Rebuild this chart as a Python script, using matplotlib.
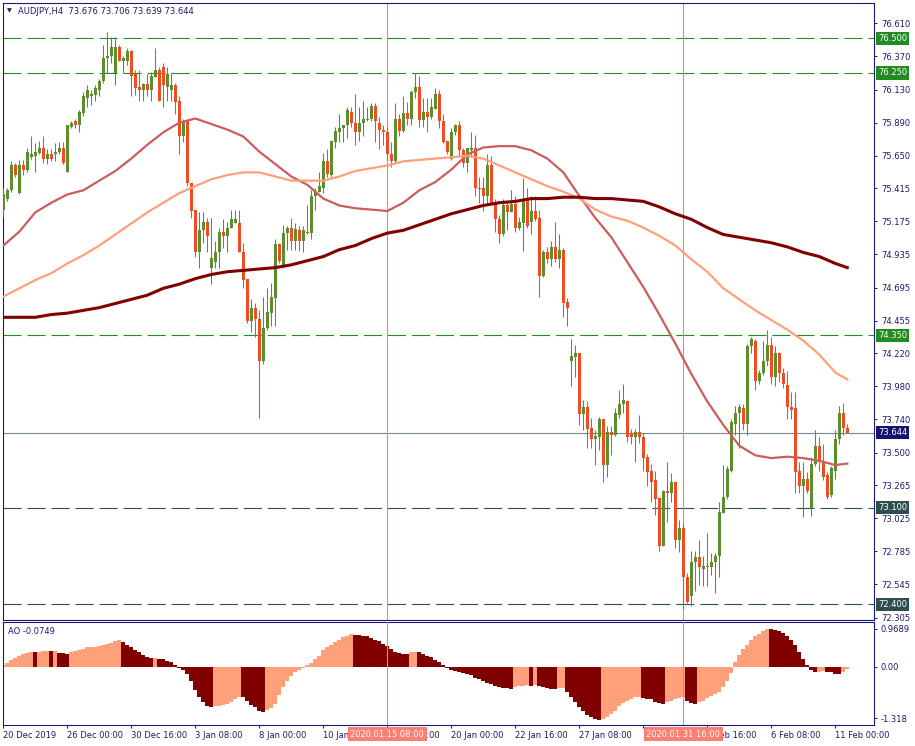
import numpy as np
import matplotlib
matplotlib.use("Agg")
import matplotlib.pyplot as plt
from matplotlib.transforms import blended_transform_factory

plt.rcParams['font.family'] = ['DejaVu Sans']
plt.rcParams['lines.scale_dashes'] = False

W, H = 915, 746

# AUDJPY H4 candles (bar 0 = left edge)
opens = [75.26, 75.34, 75.40, 75.58, 75.38, 75.58, 75.55, 75.64, 75.65, 75.67,
         75.71, 75.63, 75.66, 75.66, 75.68, 75.71, 75.53, 75.86, 75.90, 75.87,
         75.96, 76.07, 76.08, 76.09, 76.13, 76.19, 76.36, 76.37, 76.25, 76.44,
         76.34, 76.34, 76.41, 76.24, 76.15, 76.13, 76.17, 76.13, 76.22, 76.27,
         76.29, 76.15, 76.13, 76.16, 76.05, 75.79, 75.90, 75.45, 75.26, 74.95,
         75.11, 75.17, 74.84, 74.88, 74.95, 75.10, 75.07, 75.13, 75.16, 75.16,
         74.95, 74.76, 74.45, 74.55, 74.47, 74.16, 74.40, 74.51, 74.62, 75.01,
         74.86, 75.09, 75.13, 75.03, 75.11, 75.03, 75.10, 75.09, 75.36, 75.39,
         75.42, 75.61, 75.51, 75.75, 75.82, 75.85, 75.87, 75.97, 75.89, 75.82,
         75.89, 75.91, 75.92, 76.01, 75.89, 75.84, 75.82, 75.66, 75.61, 75.92,
         75.83, 75.96, 75.92, 76.11, 76.15, 75.91, 75.97, 75.93, 75.99, 76.10,
         75.90, 75.76, 75.63, 75.82, 75.87, 75.69, 75.60, 75.69, 75.71, 75.42,
         75.42, 75.36, 75.58, 75.31, 75.19, 75.08, 75.29, 75.24, 75.30, 75.13,
         75.16, 75.34, 75.17, 75.25, 75.20, 74.78, 74.95, 74.90, 74.99, 74.90,
         74.97, 74.59, 74.16, 74.19, 74.22, 73.78, 73.83, 73.68, 73.60, 73.61,
         73.74, 73.41, 73.65, 73.63, 73.77, 73.85, 73.87, 73.64, 73.61, 73.65,
         73.61, 73.47, 73.37, 73.30, 73.17, 72.82, 73.22, 73.21, 73.29, 72.87,
         72.95, 72.60, 72.46, 72.71, 72.74, 72.66, 72.68, 72.67, 72.71, 72.75,
         73.06, 73.18, 73.37, 73.71, 73.79, 73.82, 73.71, 74.27, 74.31, 74.02,
         74.08, 74.16, 74.28, 74.05, 74.22, 74.08, 73.99, 73.83, 73.82, 73.37,
         73.26, 73.31, 73.10, 73.42, 73.55, 73.44, 73.34, 73.19, 73.37, 73.60,
         73.79, 73.676]
highs = [75.42, 75.42, 75.61, 75.60, 75.62, 75.62, 75.71, 75.79, 75.74, 75.76,
         75.79, 75.70, 75.70, 75.74, 75.75, 75.75, 75.87, 75.90, 75.92, 75.98,
         76.11, 76.16, 76.13, 76.16, 76.21, 76.45, 76.55, 76.51, 76.51, 76.45,
         76.37, 76.43, 76.42, 76.27, 76.27, 76.18, 76.24, 76.26, 76.43, 76.29,
         76.32, 76.29, 76.25, 76.18, 76.08, 75.92, 75.91, 75.45, 75.26, 75.24,
         75.24, 75.20, 75.20, 75.03, 75.13, 75.19, 75.17, 75.26, 75.26, 75.26,
         75.02, 74.76, 74.61, 74.58, 74.53, 74.63, 74.69, 74.73, 75.05, 75.02,
         75.15, 75.14, 75.20, 75.16, 75.14, 75.14, 75.29, 75.40, 75.42, 75.53,
         75.67, 75.70, 75.76, 75.86, 75.95, 75.87, 76.00, 76.00, 76.10, 76.00,
         76.05, 76.00, 76.03, 76.03, 75.93, 75.87, 75.86, 75.75, 76.03, 75.95,
         76.08, 76.04, 76.13, 76.25, 76.23, 76.07, 76.07, 76.07, 76.14, 76.13,
         75.95, 75.76, 75.85, 75.88, 75.90, 75.71, 75.71, 75.82, 75.80, 75.50,
         75.50, 75.66, 75.65, 75.34, 75.22, 75.34, 75.32, 75.40, 75.36, 75.21,
         75.49, 75.42, 75.36, 75.36, 75.26, 74.97, 74.99, 75.03, 75.17, 75.08,
         74.98, 74.62, 74.32, 74.28, 74.22, 73.88, 73.87, 73.75, 73.66, 73.76,
         73.74, 73.69, 73.69, 73.82, 73.95, 74.00, 73.88, 73.67, 73.67, 73.77,
         73.64, 73.49, 73.42, 73.37, 73.17, 73.23, 73.43, 73.35, 73.29, 73.01,
         72.99, 72.63, 72.79, 72.79, 72.87, 72.75, 72.92, 72.77, 72.77, 73.14,
         73.41, 73.40, 73.74, 73.84, 73.85, 73.85, 74.29, 74.34, 74.32, 74.10,
         74.31, 74.39, 74.34, 74.27, 74.23, 74.11, 74.09, 73.94, 73.94, 73.43,
         73.43, 73.36, 73.47, 73.66, 73.61, 73.56, 73.36, 73.40, 73.66, 73.84,
         73.86, 73.706]
lows = [75.21, 75.32, 75.39, 75.50, 75.37, 75.51, 75.53, 75.63, 75.53, 75.66,
        75.60, 75.59, 75.61, 75.61, 75.66, 75.59, 75.53, 75.85, 75.85, 75.82,
        75.94, 76.00, 76.02, 76.05, 76.08, 76.18, 76.25, 76.32, 76.16, 76.34,
        76.25, 76.31, 76.08, 76.09, 76.05, 76.05, 76.08, 76.05, 76.22, 76.05,
        76.00, 76.05, 76.05, 75.95, 75.66, 75.75, 75.43, 75.20, 74.92, 74.84,
        75.02, 74.95, 74.72, 74.84, 74.84, 74.98, 74.95, 75.13, 75.16, 74.95,
        74.69, 74.44, 74.37, 74.34, 73.75, 74.14, 74.39, 74.42, 74.42, 74.87,
        74.84, 74.97, 74.97, 74.97, 74.96, 74.95, 75.08, 75.05, 75.26, 75.39,
        75.38, 75.50, 75.50, 75.71, 75.75, 75.75, 75.78, 75.86, 75.73, 75.76,
        75.79, 75.90, 75.90, 75.75, 75.70, 75.73, 75.62, 75.57, 75.60, 75.79,
        75.82, 75.87, 75.87, 76.07, 75.86, 75.86, 75.82, 75.92, 75.99, 75.85,
        75.74, 75.66, 75.62, 75.80, 75.64, 75.57, 75.53, 75.64, 75.36, 75.31,
        75.25, 75.29, 75.29, 75.10, 75.02, 75.07, 75.11, 75.24, 75.10, 75.11,
        74.96, 75.13, 75.08, 75.18, 74.63, 74.77, 74.87, 74.85, 74.88, 74.84,
        74.48, 74.42, 73.98, 74.05, 73.70, 73.66, 73.53, 73.53, 73.41, 73.52,
        73.29, 73.32, 73.48, 73.62, 73.75, 73.79, 73.58, 73.56, 73.43, 73.57,
        73.37, 73.26, 73.14, 73.05, 72.79, 72.82, 73.00, 73.14, 72.81, 72.78,
        72.37, 72.41, 72.39, 72.50, 72.54, 72.53, 72.53, 72.61, 72.48, 72.60,
        73.06, 73.16, 73.36, 73.63, 73.53, 73.66, 73.63, 74.22, 73.95, 74.00,
        74.06, 74.13, 74.00, 73.98, 74.01, 73.97, 73.74, 73.74, 73.21, 73.21,
        73.03, 73.21, 73.04, 73.40, 73.37, 73.30, 73.16, 73.18, 73.31, 73.56,
        73.63, 73.639]
closes = [75.37, 75.40, 75.58, 75.51, 75.58, 75.55, 75.68, 75.66, 75.68, 75.71,
          75.63, 75.66, 75.63, 75.68, 75.71, 75.60, 75.87, 75.89, 75.87, 75.97,
          76.08, 76.13, 76.10, 76.14, 76.19, 76.36, 76.37, 76.44, 76.44, 76.34,
          76.36, 76.41, 76.23, 76.14, 76.13, 76.17, 76.13, 76.23, 76.27, 76.05,
          76.16, 76.24, 76.16, 76.04, 75.79, 75.90, 75.45, 75.25, 74.95, 75.11,
          75.17, 75.07, 74.91, 74.95, 75.10, 75.07, 75.13, 75.19, 75.19, 74.95,
          74.75, 74.45, 74.55, 74.47, 74.16, 74.40, 74.52, 74.63, 75.01, 74.89,
          75.09, 75.13, 75.03, 75.12, 75.03, 75.11, 75.09, 75.36, 75.39, 75.43,
          75.61, 75.52, 75.76, 75.83, 75.85, 75.87, 75.98, 75.89, 75.82, 75.89,
          75.92, 75.92, 76.01, 75.90, 75.84, 75.82, 75.66, 75.61, 75.92, 75.83,
          75.96, 75.92, 76.11, 76.15, 75.91, 75.97, 75.93, 76.00, 76.10, 75.90,
          75.75, 75.68, 75.82, 75.87, 75.69, 75.60, 75.71, 75.71, 75.42, 75.41,
          75.36, 75.58, 75.31, 75.19, 75.08, 75.29, 75.24, 75.30, 75.13, 75.17,
          75.34, 75.14, 75.25, 75.19, 74.78, 74.95, 74.90, 74.99, 74.90, 74.97,
          74.58, 74.55, 74.20, 74.22, 73.78, 73.83, 73.67, 73.60, 73.62, 73.74,
          73.41, 73.65, 73.63, 73.79, 73.85, 73.88, 73.61, 73.61, 73.65, 73.61,
          73.46, 73.36, 73.29, 73.16, 72.82, 73.22, 73.21, 73.29, 72.87, 72.95,
          72.60, 72.42, 72.71, 72.74, 72.67, 72.68, 72.67, 72.71, 72.75, 73.07,
          73.18, 73.38, 73.72, 73.79, 73.83, 73.71, 74.27, 74.32, 74.02, 74.08,
          74.16, 74.28, 74.05, 74.22, 74.08, 74.00, 73.83, 73.81, 73.36, 73.26,
          73.31, 73.22, 73.42, 73.55, 73.43, 73.32, 73.18, 73.39, 73.60, 73.79,
          73.676, 73.644]

# Awesome Oscillator per bar
ao = [0.03, 0.09, 0.17, 0.22, 0.27, 0.31, 0.34, 0.37, 0.36, 0.38,
      0.39, 0.40, 0.39, 0.40, 0.35, 0.34, 0.33, 0.37, 0.39, 0.43,
      0.45, 0.49, 0.50, 0.51, 0.52, 0.55, 0.57, 0.61, 0.65, 0.67,
      0.62, 0.56, 0.49, 0.43, 0.37, 0.30, 0.24, 0.21, 0.22, 0.19,
      0.18, 0.15, 0.11, 0.05, -0.03, -0.09, -0.19, -0.38, -0.59, -0.77,
      -0.90, -1.00, -1.04, -1.02, -1.01, -0.98, -0.95, -0.91, -0.84, -0.77,
      -0.78, -0.87, -0.98, -1.04, -1.15, -1.17, -1.11, -1.05, -0.95, -0.74,
      -0.53, -0.36, -0.25, -0.14, -0.08, -0.03, 0.03, 0.09, 0.18, 0.28,
      0.41, 0.49, 0.55, 0.62, 0.69, 0.75, 0.79, 0.82, 0.81, 0.80,
      0.79, 0.77, 0.73, 0.69, 0.64, 0.58, 0.52, 0.44, 0.38, 0.35,
      0.32, 0.31, 0.37, 0.38, 0.37, 0.32, 0.28, 0.24, 0.17, 0.11,
      0.03, -0.03, -0.08, -0.11, -0.14, -0.16, -0.20, -0.23, -0.29, -0.33,
      -0.38, -0.41, -0.44, -0.49, -0.52, -0.55, -0.56, -0.58, -0.53, -0.51,
      -0.49, -0.48, -0.49, -0.47, -0.50, -0.53, -0.55, -0.57, -0.58, -0.56,
      -0.55, -0.66, -0.78, -0.91, -1.04, -1.15, -1.24, -1.30, -1.34, -1.37,
      -1.34, -1.30, -1.22, -1.13, -1.01, -0.93, -0.87, -0.83, -0.79, -0.78,
      -0.80, -0.83, -0.84, -0.90, -0.94, -0.97, -0.91, -0.88, -0.84, -0.81,
      -0.79, -0.87, -0.93, -0.95, -0.91, -0.87, -0.81, -0.76, -0.70, -0.64,
      -0.53, -0.36, -0.16, 0.11, 0.30, 0.45, 0.56, 0.69, 0.78, 0.84,
      0.92, 0.9689, 0.95, 0.94, 0.91, 0.86, 0.79, 0.69, 0.55, 0.37,
      0.18, 0.04, -0.10, -0.14, -0.13, -0.11, -0.13, -0.15, -0.18, -0.19,
      -0.14, -0.0749]

# moving averages, read every 4 bars
ma_idx = list(range(0, 209, 4)) + [211]
ma_fast = [75.00, 75.10, 75.24, 75.31, 75.37, 75.40, 75.47, 75.54, 75.63, 75.73,
           75.82, 75.89, 75.92, 75.88, 75.84, 75.79, 75.68, 75.59, 75.50, 75.44,
           75.34, 75.29, 75.27, 75.26, 75.25, 75.31, 75.40, 75.46, 75.55, 75.66,
           75.71, 75.72, 75.72, 75.69, 75.63, 75.53, 75.36, 75.20, 75.06, 74.88,
           74.70, 74.50, 74.29, 74.07, 73.87, 73.70, 73.55, 73.48, 73.46, 73.47,
           73.46, 73.44, 73.41, 73.42]
ma_mid = [74.63, 74.69, 74.75, 74.80, 74.87, 74.93, 75.00, 75.08, 75.16, 75.24,
          75.31, 75.38, 75.43, 75.48, 75.51, 75.53, 75.53, 75.50, 75.47, 75.47,
          75.47, 75.50, 75.54, 75.56, 75.58, 75.61, 75.62, 75.63, 75.64, 75.65,
          75.63, 75.58, 75.53, 75.48, 75.43, 75.39, 75.34, 75.26, 75.21, 75.18,
          75.13, 75.07, 75.00, 74.90, 74.81, 74.69, 74.61, 74.53, 74.46, 74.39,
          74.31, 74.21, 74.08, 74.03]
ma_slow = [74.48, 74.48, 74.48, 74.50, 74.51, 74.53, 74.55, 74.58, 74.61, 74.64,
           74.69, 74.72, 74.76, 74.79, 74.81, 74.82, 74.83, 74.84, 74.86, 74.89,
           74.92, 74.97, 75.00, 75.05, 75.09, 75.11, 75.15, 75.19, 75.23, 75.26,
           75.29, 75.31, 75.32, 75.34, 75.34, 75.35, 75.35, 75.34, 75.34, 75.33,
           75.32, 75.28, 75.23, 75.19, 75.13, 75.08, 75.06, 75.04, 75.02, 74.99,
           74.95, 74.92, 74.87, 74.84]

price_ticks = [76.610, 76.370, 76.130, 75.890, 75.650, 75.415, 75.175, 74.935,
               74.695, 74.455, 74.220, 73.980, 73.740, 73.500, 73.265, 73.025,
               72.785, 72.545, 72.305]
green_levels = [76.500, 76.250, 74.350]
slate_levels = [73.100, 72.400]
last_price = 73.644

date_idx = [0, 16, 32, 48, 64, 80, 96, 112, 128, 144, 160, 176, 192, 208]
date_labels = ['20 Dec 2019', '26 Dec 00:00', '30 Dec 16:00', '3 Jan 08:00',
               '8 Jan 00:00', '10 Jan 16:00', '15 Jan 08:00', '20 Jan 00:00',
               '22 Jan 16:00', '27 Jan 08:00', '30 Jan 00:00', '3 Feb 16:00',
               '6 Feb 08:00', '11 Feb 00:00']
vline_idx = [96, 170]
vline_labels = ['2020.01.15 08:00', '2020.01.31 16:00']
ao_ticks = [0.9689, 0.0, -1.318]
ao_tick_labels = ['0.9689', '0.00', '-1.318']

NAVY = '#1a1a72'
BULL = '#5b8f2b'
BEAR = '#f24b22'
FS = 6

fig = plt.figure(figsize=(W / 100, H / 100), dpi=100)
ax = fig.add_axes([3 / W, 1 - 620 / H, 871 / W, 617 / H])
ax2 = fig.add_axes([3 / W, 1 - 725 / H, 871 / W, 103 / H])

xlim = (-0.075, -0.075 + 871 / 4)

# ---- price panel ----
o = np.array(opens)
h = np.array(highs)
l = np.array(lows)
c = np.array(closes)
idx = np.arange(len(o))
col = np.where(c >= o, BULL, BEAR)

for lv in green_levels:
    ax.axhline(lv, color='#228b22', lw=0.8, ls=(0, (13, 4.3)), zorder=1)
for lv in slate_levels:
    ax.axhline(lv, color='#2f4f4f', lw=0.8, ls=(0, (13, 4.3)), zorder=1)
ax.axhline(last_price, color='#778899', lw=0.8, zorder=1)
for v in vline_idx:
    ax.axvline(v, color='#fa8072', lw=0.8, zorder=1.5)
    ax2.axvline(v, color='#fa8072', lw=0.8, zorder=3)

ax.vlines(idx, l, h, colors=col, lw=0.75, zorder=3)
body_h = np.maximum(np.abs(c - o), 0.007)
ax.bar(idx, body_h, bottom=np.minimum(o, c), width=0.75, color=col, lw=0, zorder=4)

ax.plot(ma_idx, ma_fast, color='#cd5c5c', lw=1.6, zorder=5)
ax.plot(ma_idx, ma_mid, color='#ffa07a', lw=1.6, zorder=5)
ax.plot(ma_idx, ma_slow, color='#800000', lw=2.2, zorder=5)

ax.set_xlim(*xlim)
ax.set_ylim(72.287, 76.757)
ax.set_xticks([])
ax.yaxis.tick_right()
ax.set_yticks(price_ticks)
ax.set_yticklabels([f'{t:.3f}' for t in price_ticks])
ax.tick_params(axis='y', direction='out', length=2.5, width=0.7,
               colors=NAVY, labelsize=FS, pad=2.5)

tr = blended_transform_factory(ax.transAxes, ax.transData)
box_levels = [(lv, '#228b22') for lv in green_levels] + \
             [(lv, '#2f4f4f') for lv in slate_levels] + [(last_price, '#14146e')]
for lv, bg in box_levels:
    ax.text(1 + 4 / 871, lv, f'{lv:.3f}', transform=tr, ha='left', va='center',
            color='white', fontsize=FS, clip_on=False, zorder=10,
            bbox=dict(boxstyle='square,pad=0.25', fc=bg, ec='none'))

# ---- AO panel ----
a = np.array(ao)
aidx = np.arange(len(a))
acol = ['#ffa07a' if i == 0 or a[i] >= a[i - 1] else '#800000' for i in aidx]
ax2.bar(aidx, a, width=1.0, color=acol, lw=0, zorder=2)
ax2.set_xlim(*xlim)
ax2.set_ylim(-1.496, 1.138)
ax2.yaxis.tick_right()
ax2.set_yticks(ao_ticks)
ax2.set_yticklabels(ao_tick_labels)
ax2.tick_params(axis='y', direction='out', length=2.5, width=0.7,
                colors=NAVY, labelsize=FS, pad=2.5)
ax2.set_xticks(date_idx)
ax2.set_xticklabels(date_labels, ha='left')
ax2.tick_params(axis='x', direction='out', length=2.5, width=0.7,
                colors=NAVY, labelsize=FS, pad=1.5)

# highlighted crosshair dates sit on the date row and cover the labels under them
trx = blended_transform_factory(ax2.transData, ax2.transAxes)
for v, lab in zip(vline_idx, vline_labels):
    ax2.text(v, -0.092, lab, transform=trx, ha='center', va='center',
             color='white', fontsize=FS, clip_on=False, zorder=10,
             bbox=dict(boxstyle='square,pad=0.3', fc='#fa8072', ec='none'))

for a_ in (ax, ax2):
    for s in a_.spines.values():
        s.set_color(NAVY)
        s.set_linewidth(0.8)

fig.text(7 / W, 1 - 11 / H, '\u25bc', fontsize=4.5, color=NAVY, va='center')
fig.text(18 / W, 1 - 11 / H, 'AUDJPY,H4  73.676 73.706 73.639 73.644',
         fontsize=FS, color=NAVY, va='center')
fig.text(8 / W, 1 - 631 / H, 'AO -0.0749', fontsize=FS, color=NAVY, va='center')

fig.savefig('out.png', dpi=100, facecolor='white')
